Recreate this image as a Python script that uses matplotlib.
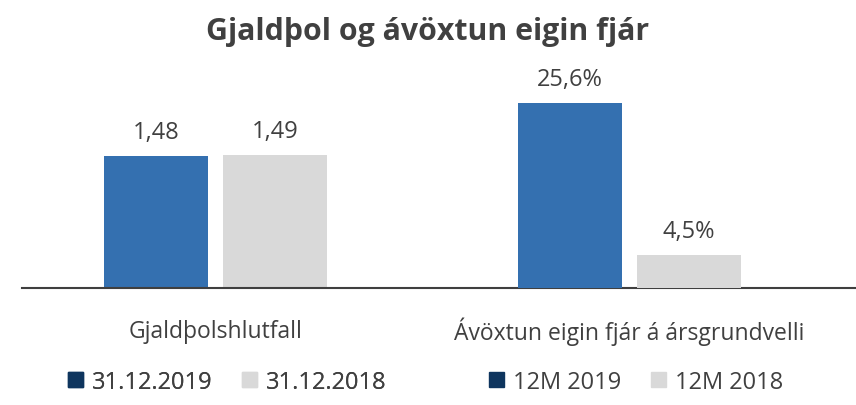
import matplotlib
matplotlib.use('Agg')
import matplotlib.pyplot as plt
from matplotlib.patches import Patch

plt.rcParams['font.family'] = ['Open Sans', 'DejaVu Sans']

# Data
categories = ['Gjaldþolshlutfall', 'Ávöxtun eigin fjár á ársgrundvelli']
solvency = [1.48, 1.49]          # 31.12.2019, 31.12.2018
roe = [25.6, 4.5]                # 12M 2019, 12M 2018 (%)
solvency_legend = ['31.12.2019', '31.12.2018']
roe_legend = ['12M 2019', '12M 2018']

blue = '#3470B0'
grey = '#D9D9D9'
navy = '#0E355E'
txt = '#404040'
fs = 16.5

W, H = 856, 406
fig = plt.figure(figsize=(W / 100, H / 100), dpi=100)
ax = fig.add_axes([22 / W, 117 / H, (W - 22) / W, 229 / H])
ax2 = ax.twinx()

width = 0.2512
off = 0.1437
colors = [blue, grey]

# left group on the left scale
for i, v in enumerate(solvency):
    x = 0 + (i * 2 - 1) * off
    ax.bar(x, v, width, color=colors[i], zorder=2)
    ax.annotate(f'{v:.2f}'.replace('.', ','), (x, v), xytext=(0, 13),
                textcoords='offset points', ha='center', va='baseline',
                fontsize=17, color=txt)

# right group on its own scale
for i, v in enumerate(roe):
    x = 1 + (i * 2 - 1) * off
    ax2.bar(x, v, width, color=colors[i], zorder=2)
    ax2.annotate(f'{v:.1f}%'.replace('.', ','), (x, v), xytext=(0, 13),
                 textcoords='offset points', ha='center', va='baseline',
                 fontsize=17, color=txt)

ax.set_xlim(-0.4674, 1.547)
ax.set_ylim(0, 2.573)
ax2.set_ylim(0, 31.7)

for a in (ax, ax2):
    for s in ('top', 'left', 'right', 'bottom'):
        a.spines[s].set_visible(False)
    a.set_xticks([])
    a.set_yticks([])
ax.spines['bottom'].set_visible(True)
ax.spines['bottom'].set_color('#3F3F3F')
ax.spines['bottom'].set_linewidth(1.5)
ax.spines['bottom'].set_zorder(5)

# category labels below the axis line
for i, c in enumerate(categories):
    ax.annotate(c, (i, 0), xycoords=('data', 'axes fraction'),
                xytext=(0, -31), textcoords='offset points',
                ha='center', va='center', fontsize=fs, color=txt)

fig.text(0.5, 1 - 40 / H, 'Gjaldþol og ávöxtun eigin fjár', ha='center',
         va='baseline', fontsize=21.8, fontweight='bold', color=txt)

leg_kw = dict(ncol=2, loc='center', frameon=False, fontsize=17,
              handlelength=0.62, handleheight=0.62, handletextpad=0.4,
              columnspacing=1.25, labelcolor=txt, borderpad=0)
l1 = fig.legend([Patch(color=navy), Patch(color=grey)], solvency_legend,
                bbox_to_anchor=(227.5 / W, 1 - 383 / H), **leg_kw)
fig.add_artist(l1)
fig.legend([Patch(color=navy), Patch(color=grey)], roe_legend,
           bbox_to_anchor=(636.5 / W, 1 - 383 / H), **leg_kw)

fig.savefig('out.png', dpi=100)
